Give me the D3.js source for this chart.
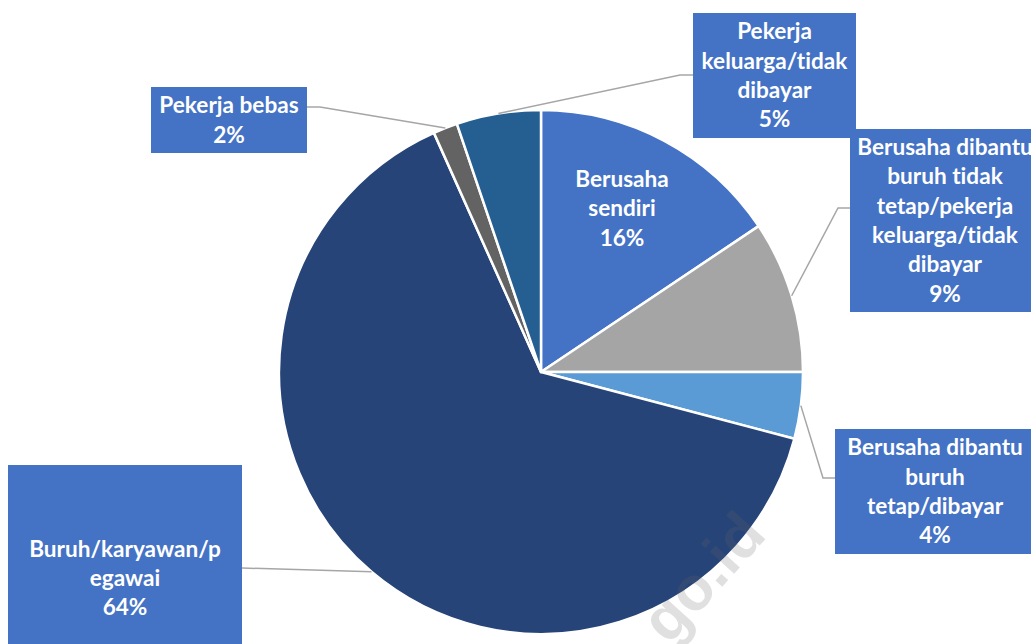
<!DOCTYPE html>
<html>
<head>
<meta charset="utf-8">
<script src="https://cdn.jsdelivr.net/npm/d3@7"></script>
<style>
  html, body { margin: 0; padding: 0; background: #ffffff; overflow: hidden; }
  svg { display: block; }
  text { font-family: Lato, "Open Sans", sans-serif; font-weight: 700; font-variant-ligatures: none; font-feature-settings: "liga" 0; }
</style>
</head>
<body>
<svg id="chart" width="1031" height="644"></svg>
<script>
// ---- Data ----
const categories = [
  "Berusaha sendiri",
  "Berusaha dibantu buruh tidak tetap/pekerja keluarga/tidak dibayar",
  "Berusaha dibantu buruh tetap/dibayar",
  "Buruh/karyawan/pegawai",
  "Pekerja bebas",
  "Pekerja keluarga/tidak dibayar"
];
const values = [15.6, 9.4, 4.1, 64.2, 1.5, 5.2];
const labelLines = [
  ["Berusaha", "sendiri"],
  ["Berusaha dibantu", "buruh tidak", "tetap/pekerja", "keluarga/tidak", "dibayar"],
  ["Berusaha dibantu", "buruh", "tetap/dibayar"],
  ["Buruh/karyawan/p", "egawai"],
  ["Pekerja bebas"],
  ["Pekerja", "keluarga/tidak", "dibayar"]
];
const percentLabels = ["16%", "9%", "4%", "64%", "2%", "5%"];
const colors = ["#4472C4", "#A5A5A5", "#5B9BD5", "#264478", "#636363", "#255E91"];

// ---- Layout ----
const cx = 541, cy = 372, R = 262;
const lineH = 29.3;
const fontSize = 22.6;
const boxColor = "#4472C4";

// label box geometry [x0, y0, x1, y1] (null box = label drawn inside slice)
const boxes = [
  null,
  [850, 129, 1040, 312],
  [835, 429, 1035, 554],
  [8, 465, 242, 691],
  [151, 87, 307, 153],
  [693, 13, 856, 138]
];
// elbow points of leader lines and box attach points
const leaders = [
  null,
  { elbow: [838, 208], end: [850, 208] },
  { elbow: [823, 478], end: [835, 478] },
  { elbow: null, end: [242, 568] },
  { elbow: [320, 107], end: [307, 107] },
  { elbow: [680, 75], end: [693, 75] }
];

const svg = d3.select("#chart");
const data = categories.map((c, i) => ({ name: c, value: values[i], i }));

const pie = d3.pie().sort(null).value(d => d.value);
const arcs = pie(data);
const arc = d3.arc().innerRadius(0).outerRadius(R);
const color = d3.scaleOrdinal().domain(categories).range(colors);

const g = svg.append("g").attr("transform", `translate(${cx},${cy})`);
g.selectAll("path.slice")
  .data(arcs)
  .join("path")
  .attr("class", "slice")
  .attr("d", arc)
  .attr("fill", d => color(d.data.name))
  .attr("stroke", "#ffffff")
  .attr("stroke-width", 2.5)
  .attr("stroke-linejoin", "round");

// Leader lines
arcs.forEach((a, i) => {
  const L = leaders[i];
  if (!L) return;
  const mid = (a.startAngle + a.endAngle) / 2;
  const sx = cx + R * Math.sin(mid);
  const sy = cy - R * Math.cos(mid);
  const pts = [[sx, sy]];
  if (L.elbow) pts.push(L.elbow);
  pts.push(L.end);
  svg.append("path")
    .attr("d", d3.line()(pts))
    .attr("fill", "none")
    .attr("stroke", "#A6A6A6")
    .attr("stroke-width", 1.5);
});

// Label boxes and text
arcs.forEach((a, i) => {
  const lines = labelLines[i].concat([percentLabels[i]]);
  let tx, tyc;
  const b = boxes[i];
  if (b) {
    svg.append("rect")
      .attr("x", b[0]).attr("y", b[1])
      .attr("width", b[2] - b[0]).attr("height", b[3] - b[1])
      .attr("fill", boxColor);
    tx = (b[0] + b[2]) / 2;
    tyc = (b[1] + b[3]) / 2;
  } else {
    tx = 622; tyc = 208.5;
  }
  const n = lines.length;
  const t = svg.append("text")
    .attr("text-anchor", "middle")
    .attr("fill", "#ffffff")
    .attr("font-size", fontSize + "px");
  lines.forEach((ln, k) => {
    t.append("tspan")
      .attr("x", tx)
      .attr("y", tyc + (k - (n - 1) / 2) * lineH)
      .attr("dy", "0.35em")
      .text(ln);
  });
});

// Watermark
svg.append("text")
  .attr("transform", "translate(768,536) rotate(-48)")
  .attr("text-anchor", "end")
  .style("font-family", "'Liberation Sans', Arial, sans-serif")
  .attr("font-size", "62px")
  .attr("fill", "#646464")
  .attr("fill-opacity", 0.2)
  .text("go.id");
</script>
</body>
</html>
